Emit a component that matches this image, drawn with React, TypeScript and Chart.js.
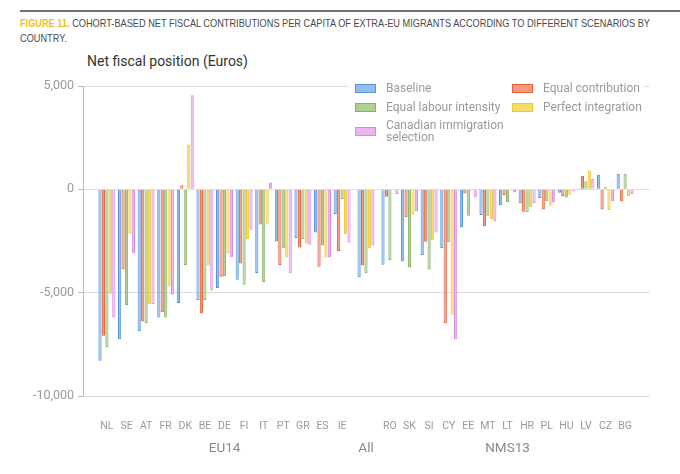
import { useEffect, useRef } from "react";
import { Chart, registerables } from "chart.js";

Chart.register(...registerables);

const eu14 = ["NL", "SE", "AT", "FR", "DK", "BE", "DE", "FI", "IT", "PT", "GR", "ES", "IE"];
const nms13 = ["RO", "SK", "SI", "CY", "EE", "MT", "LT", "HR", "PL", "HU", "LV", "CZ", "BG"];
const countries = [...eu14, "All", ...nms13];
const groupLabels = ["EU14", "All", "NMS13"];

// values in euros, in the order of `countries`
const baseline = [-8300, -7250, -6850, -6200, -5500, -5350, -4770, -4370, -4050, -2530, -2360, -2090, -1190, -4250, -3650, -3490, -3180, -2840, -1840, -1240, -760, -680, -420, -160, 50, 700, 750];
const equalContribution = [-7090, -3870, -6390, -5950, 200, -6000, -4230, -3590, -1700, -3660, -2820, -3750, -2980, -3690, -360, -1350, -2540, -6480, -200, -1790, -270, -1080, -970, -320, 660, -970, -580];
const equalLabour = [-7650, -5600, -6470, -6200, -3660, -5350, -4200, -4620, -4480, -2850, -2410, -2720, -470, -4060, -3420, -3780, -3880, -2560, -1280, -1280, -620, -1110, -580, -390, 390, 100, 750];
const perfectIntegration = [-5050, -2150, -5550, -4660, 2170, -3690, -3100, -2410, -1700, -3300, -2620, -3300, -2170, -2850, -30, -1230, -2460, -6070, 50, -1430, -50, -870, -790, -260, 910, -1000, -320];
const canadian = [-6200, -3090, -5550, -5100, 4550, -4900, -3290, -1960, 330, -4060, -2680, -3300, -2570, -2720, -220, -1060, -2090, -7250, -390, -1550, -150, -660, -630, -110, 500, -580, -220];

const yTicks = [5000, 0, -5000, -10000];

const series = [
  { label: "Baseline", data: baseline, fill: "#93bdea", line: "#5596dc" },
  { label: "Equal contribution", data: equalContribution, fill: "#f39a80", line: "#e65f3a" },
  { label: "Equal labour intensity", data: equalLabour, fill: "#b2cf94", line: "#89b165" },
  { label: "Perfect integration", data: perfectIntegration, fill: "#f6dc6c", line: "#eec838" },
  { label: "Canadian immigration selection", data: canadian, fill: "#ebb5f0", line: "#d98ae5" },
];

// the "All" group sits a little apart from the two country blocks
const gap = 1.22;
const nEu = eu14.length;
const xPos = countries.map((_, i) =>
  i < nEu ? i : i === nEu ? nEu - 1 + gap : nEu - 1 + 2 * gap + (i - nEu - 1)
);
const groupPos = [(nEu - 1) / 2, xPos[nEu], xPos[nEu + 1] + (nms13.length - 1) / 2];
const xMin = -gap;
const xMax = xPos[xPos.length - 1] + 1.27;

const font = "Roboto, 'Liberation Sans', sans-serif";

export default function App() {
  const canvasRef = useRef<HTMLCanvasElement>(null);

  useEffect(() => {
    if (!canvasRef.current) return;

    const chart = new Chart(canvasRef.current, {
      type: "bar",
      data: {
        datasets: series.map((s) => ({
          label: s.label,
          data: s.data.map((v, i) => ({ x: xPos[i], y: v })),
          backgroundColor: s.fill,
          borderColor: s.line,
          borderWidth: 1,
          categoryPercentage: 0.88,
          barPercentage: 0.92,
        })),
      },
      options: {
        responsive: false,
        animation: false,
        layout: { padding: { top: 86, right: 30, bottom: 14, left: 0 } },
        plugins: { legend: { display: false }, tooltip: { enabled: false } },
        scales: {
          x: {
            type: "linear",
            min: xMin,
            max: xMax,
            offset: false,
            weight: 0,
            grid: { display: false, drawTicks: false },
            border: { display: false },
            afterBuildTicks: (s: any) => {
              s.ticks = xPos.map((v) => ({ value: v }));
            },
            afterFit: (s: any) => {
              s.height = 34;
            },
            ticks: {
              autoSkip: false,
              maxRotation: 0,
              padding: 24,
              color: "#9a9a9a",
              font: { family: font, size: 10.5 },
              callback: (_v: any, i: number) => (i === nEu ? "" : countries[i]),
            },
          },
          x2: {
            type: "linear",
            position: "bottom",
            min: xMin,
            max: xMax,
            offset: false,
            weight: 1,
            grid: { display: false, drawTicks: false },
            border: { display: false },
            afterBuildTicks: (s: any) => {
              s.ticks = groupPos.map((v) => ({ value: v }));
            },
            afterFit: (s: any) => {
              s.height = 30;
            },
            ticks: {
              autoSkip: false,
              maxRotation: 0,
              padding: 11,
              color: "#8a8a8a",
              font: { family: font, size: 13.5 },
              callback: (_v: any, i: number) => groupLabels[i],
            },
          },
          y: {
            min: -10000,
            max: 5000,
            afterBuildTicks: (s: any) => {
              s.ticks = yTicks.map((v) => ({ value: v }));
            },
            afterFit: (s: any) => {
              s.width = 83;
            },
            grid: { color: "#dedede", tickColor: "#bdbdbd", tickLength: 5 },
            border: { color: "#bdbdbd" },
            ticks: {
              padding: 4,
              color: "#9a9a9a",
              font: { family: font, size: 12.5 },
              callback: (v: any) => Number(v).toLocaleString("en-US"),
            },
          },
        },
      },
    });

    return () => {
      chart.destroy();
    };
  }, []);

  return (
    <div style={{ position: "absolute", left: 0, top: 0, width: 680, height: 474, background: "#fff", fontFamily: font, overflow: "hidden" }}>
      <div style={{ position: "absolute", left: 20, top: 10, width: 660, height: 2, background: "#707070" }} />
      <div
        style={{
          position: "absolute",
          left: 20,
          top: 16,
          fontFamily: "'Liberation Sans', sans-serif",
          fontSize: 11.5,
          lineHeight: "15px",
          color: "#4a4a4a",
          whiteSpace: "nowrap",
          transform: "scaleX(0.8)",
          transformOrigin: "0 0",
        }}
      >
        <span style={{ color: "#f2c01e", fontWeight: "bold" }}>FIGURE 11.</span> COHORT-BASED NET FISCAL
        CONTRIBUTIONS PER CAPITA OF EXTRA-EU MIGRANTS ACCORDING TO DIFFERENT SCENARIOS BY
        <br />
        COUNTRY.
      </div>
      <div style={{ position: "absolute", left: 87, top: 53, fontSize: 14, lineHeight: "17px", color: "#333" }}>
        Net fiscal position (Euros)
      </div>
      <canvas ref={canvasRef} width={680} height={474} style={{ position: "absolute", left: 0, top: 0 }} />
      <div
        style={{
          position: "absolute",
          left: 348,
          top: 76,
          width: 296,
          height: 70,
          background: "#fff",
        }}
      >
        <div
          style={{
            position: "absolute",
            left: 7,
            top: 7,
            display: "grid",
            gridTemplateColumns: "157px auto",
            rowGap: 7,
            alignItems: "center",
          }}
        >
          {series.map((s) => (
            <div key={s.label} style={{ display: "flex", alignItems: "center" }}>
              <span
                style={{
                  width: 19,
                  height: 7,
                  border: `1px solid ${s.line}`,
                  background: s.fill,
                  marginRight: 10,
                  flex: "none",
                }}
              />
              <span style={{ fontSize: 12, lineHeight: "11.5px", color: "#9a9a9a", width: 125 }}>{s.label}</span>
            </div>
          ))}
        </div>
      </div>
    </div>
  );
}
